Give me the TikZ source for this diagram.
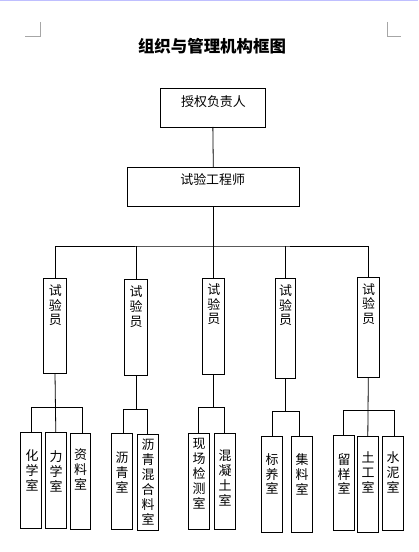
\documentclass[tikz,border=0pt]{standalone}
\usepackage{fontspec}
\newfontfamily\cjk{Noto Sans CJK SC}
\begin{document}
\begin{tikzpicture}[x=1bp,y=-1bp,
  boxst/.style={draw=black,line width=0.8bp,rectangle,inner sep=0pt,outer sep=0pt},
  conn/.style={draw=black,line width=0.8bp},
  htxt/.style={inner sep=0pt,font=\cjk\fontsize{13}{15}\selectfont},
  vtxt/.style={inner sep=0pt,anchor=north,align=center,font=\cjk\fontsize{13}{15}\selectfont},
  vtxtb/.style={vtxt,font=\cjk\fontsize{13}{14.7}\selectfont},
  cropmark/.style={draw=black!35,line width=0.8bp}]
\newcommand\mkbox[5]{\node[boxst,minimum width={(#4-#2)*1bp},minimum height={(#5-#3)*1bp}] (#1) at ({(#2+#4)/2},{(#3+#5)/2}) {};}
\useasboundingbox (0,0) rectangle (418,552);
\fill[white] (0,0) rectangle (418,552);
\draw[draw=blue!25,line width=1bp] (0,0.5) -- (418,0.5);
% corner marks
\draw[cropmark] (25,36) -- (40,36) -- (40,22);
\draw[cropmark] (387,22) -- (387,36) -- (401,36);
% title
\node[inner sep=0pt,font=\cjk\bfseries\fontsize{16.5}{18}\selectfont] (title) at (212,46.5) {组织与管理机构框图};
% top boxes
\mkbox{auth}{160}{88}{265.7}{127}
\node[htxt] (authT) at (213.5,101.5) {授权负责人};
\mkbox{eng}{127.3}{167.3}{299.3}{206.3}
\node[htxt] (engT) at (212.7,179.3) {试验工程师};
% level 3
\mkbox{t1}{43.3}{278.3}{66.7}{373.3}
\mkbox{t2}{124.3}{279.3}{147.7}{375.7}
\mkbox{t3}{202.3}{278.3}{224.3}{374.3}
\mkbox{t4}{275.3}{278.3}{295.3}{378.3}
\mkbox{t5}{357.3}{277.3}{379.3}{377.3}
\node[vtxtb] (t1T) at (55.3,284.5) {试\\验\\员};
\node[vtxtb] (t2T) at (136.2,285.8) {试\\验\\员};
\node[vtxtb] (t3T) at (213.8,283.5) {试\\验\\员};
\node[vtxtb] (t4T) at (285.5,284.5) {试\\验\\员};
\node[vtxtb] (t5T) at (368.5,283.3) {试\\验\\员};
% level 4
\mkbox{l1a}{20.3}{432.3}{41.7}{528}
\mkbox{l1b}{45.3}{432.3}{66.3}{528}
\mkbox{l1c}{70.3}{433.3}{90.3}{529.3}
\mkbox{l2a}{111.3}{433.3}{132.3}{529}
\mkbox{l2b}{137.3}{434.3}{158.3}{530.3}
\mkbox{l3a}{188.7}{433.3}{209}{529.3}
\mkbox{l3b}{214.3}{433.3}{235.3}{529.3}
\mkbox{l4a}{261.7}{436.7}{282.3}{532.3}
\mkbox{l4b}{291.7}{436.7}{312.3}{532.3}
\mkbox{l5a}{333.3}{435.3}{354.3}{530.7}
\mkbox{l5b}{357.3}{436.3}{378.3}{532}
\mkbox{l5c}{382.3}{436.3}{403.3}{530.7}
\node[vtxt] (l1aT) at (32,449.5) {化\\学\\室};
\node[vtxt] (l1bT) at (56,450.5) {力\\学\\室};
\node[vtxt] (l1cT) at (80.5,448.8) {资\\料\\室};
\node[vtxt] (l2aT) at (122,452.2) {沥\\青\\室};
\node[vtxt] (l2bT) at (148,439) {沥\\青\\混\\合\\料\\室};
\node[vtxt] (l3aT) at (199,438) {现\\场\\检\\测\\室};
\node[vtxt] (l3bT) at (225,449.5) {混\\凝\\土\\室};
\node[vtxt] (l4aT) at (272,453) {标\\养\\室};
\node[vtxt] (l4bT) at (302,453) {集\\料\\室};
\node[vtxt] (l5aT) at (344,453) {留\\样\\室};
\node[vtxt] (l5bT) at (368,451.5) {土\\工\\室};
\node[vtxt] (l5cT) at (393,451.5) {水\\泥\\室};
% connectors top
\draw[conn] (auth.south) -- (eng.north);
\coordinate (hub) at (213.3,246);
\draw[conn] (eng.south) -- (hub);
\draw[conn] (t1.north) |- (hub) -| (t5.north);
\draw[conn] (hub) -- (t3.north);
\draw[conn] (t2.north |- hub) -- (t2.north);
\draw[conn] (t4.north |- hub) -- (t4.north);
% group 1
\coordinate (g1) at (55.7,407.3);
\draw[conn] (t1.south) -- (l1b.north);
\draw[conn] (l1a.north) |- (g1) -| ([xshift=2bp]l1c.north);
% group 2
\coordinate (g2) at (136,409.3);
\draw[conn] (t2.south) -- (g2);
\draw[conn] ([xshift=1.5bp]l2a.north) |- (g2) -| (l2b.north);
% group 3
\coordinate (g3) at (213.3,407.7);
\draw[conn] (t3.south) -- (g3);
\draw[conn] (l3a.north) |- (g3) -| (l3b.north);
% group 4
\coordinate (g4) at (285.3,411.7);
\draw[conn] (t4.south) -- (g4);
\draw[conn] (l4a.north) |- (g4) -| ([xshift=-2.7bp]l4b.north);
% group 5
\coordinate (g5) at (368.3,410.7);
\draw[conn] (t5.south) -- (l5b.north);
\draw[conn] (l5a.north) |- (g5) -| ([xshift=1.5bp]l5c.north);
\end{tikzpicture}
\end{document}
